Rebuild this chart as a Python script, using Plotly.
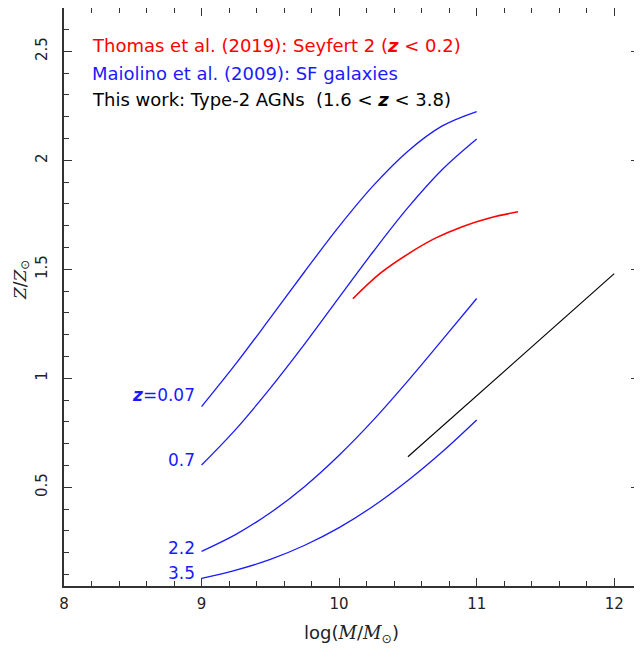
import plotly.graph_objects as go

# Maiolino et al. (2009) mass-metallicity relations (SF galaxies)
mass_grid = [9.0, 9.25, 9.5, 9.75, 10.0, 10.25, 10.5, 10.75, 11.0]
z_007 = [0.870, 1.067, 1.277, 1.490, 1.697, 1.885, 2.042, 2.158, 2.224]
z_07 = [0.602, 0.767, 0.955, 1.158, 1.371, 1.583, 1.783, 1.958, 2.098]
z_22 = [0.206, 0.284, 0.383, 0.504, 0.647, 0.809, 0.988, 1.176, 1.366]
z_35 = [0.082, 0.120, 0.169, 0.234, 0.315, 0.414, 0.531, 0.663, 0.809]
maiolino_labels = ["<b><i>z</i></b>=0.07", "0.7", "2.2", "3.5"]
label_y = [0.924, 0.625, 0.222, 0.107]

# Thomas et al. (2019) Seyfert 2
thomas_x = [10.1, 10.3, 10.5, 10.7, 10.9, 11.1, 11.3]
thomas_y = [1.365, 1.482, 1.570, 1.643, 1.697, 1.737, 1.764]

# This work: Type-2 AGNs
work_x = [10.5, 12.0]
work_y = [0.64, 1.48]

legend_texts = [
    ("Thomas et al. (2019): Seyfert 2 (<b><i>z</i></b> &lt; 0.2)", "#ff0000"),
    ("Maiolino et al. (2009): SF galaxies", "#1a1aff"),
    ("This work: Type-2 AGNs  (1.6 &lt; <b><i>z</i></b> &lt; 3.8)", "#000000"),
]
legend_y = [2.529, 2.400, 2.277]

BLUE = "#1a1aff"
FONT = "DejaVu Sans"
SERIF = "<span style=\"font-family:'DejaVu Serif'\"><i>{}</i></span>"

fig = go.Figure()
for ys in [z_007, z_07, z_22, z_35]:
    fig.add_trace(go.Scatter(x=mass_grid, y=ys, mode="lines",
                             line=dict(color=BLUE, width=1.3, shape="spline"),
                             showlegend=False, hoverinfo="skip"))
fig.add_trace(go.Scatter(x=thomas_x, y=thomas_y, mode="lines",
                         line=dict(color="#ff0000", width=1.6, shape="spline"),
                         showlegend=False))
fig.add_trace(go.Scatter(x=work_x, y=work_y, mode="lines",
                         line=dict(color="#000000", width=1.1),
                         showlegend=False))

annotations = []
for txt, yy in zip(maiolino_labels, label_y):
    annotations.append(dict(x=8.965, y=yy, xref="x", yref="y", text=txt,
                            showarrow=False, xanchor="right", yanchor="middle",
                            font=dict(family=FONT, size=17, color=BLUE)))
for (txt, col), yy in zip(legend_texts, legend_y):
    annotations.append(dict(x=8.19, y=yy, xref="x", yref="y", text=txt,
                            showarrow=False, xanchor="left", yanchor="middle",
                            font=dict(family=FONT, size=18, color=col)))
# y-axis title
annotations.append(dict(x=-0.074, y=0.53, xref="paper", yref="paper",
                        text=SERIF.format("Z") + "/" + SERIF.format("Z") + "<sub>⊙</sub>",
                        textangle=-90, showarrow=False,
                        xanchor="center", yanchor="middle",
                        font=dict(family=FONT, size=17, color="#222222")))

axis_common = dict(
    ticks="inside", ticklen=8, tickwidth=1.2, tickcolor="#333333",
    showline=True, linecolor="#333333", linewidth=1.5, mirror="ticks",
    showgrid=False, zeroline=False, automargin=False,
    tickfont=dict(family=FONT, size=15, color="#222222"),
)

fig.update_layout(
    width=634, height=644,
    margin=dict(l=56, r=3, t=0, b=66),
    paper_bgcolor="white", plot_bgcolor="white",
    annotations=annotations,
    xaxis=dict(range=[8, 12.18], tickvals=[8, 9, 10, 11, 12],
               minor=dict(dtick=0.2, ticks="inside", ticklen=5,
                          tickcolor="#333333", tickwidth=1),
               title=dict(text="log(" + SERIF.format("M") + "/" + SERIF.format("M")
                          + "<sub>⊙</sub>)",
                          font=dict(family=FONT, size=18, color="#222222"),
                          standoff=15),
               ticklabelstandoff=3,
               **axis_common),
    yaxis=dict(range=[0.047, 2.699], tickvals=[0.5, 1, 1.5, 2, 2.5],
               ticktext=["0.5", "1", "1.5", "2", "2.5"], tickangle=-90,
               minor=dict(dtick=0.1, ticks="inside", ticklen=5,
                          tickcolor="#333333", tickwidth=1),
               ticklabelstandoff=9,
               **axis_common),
)

fig.write_html("out.html")
